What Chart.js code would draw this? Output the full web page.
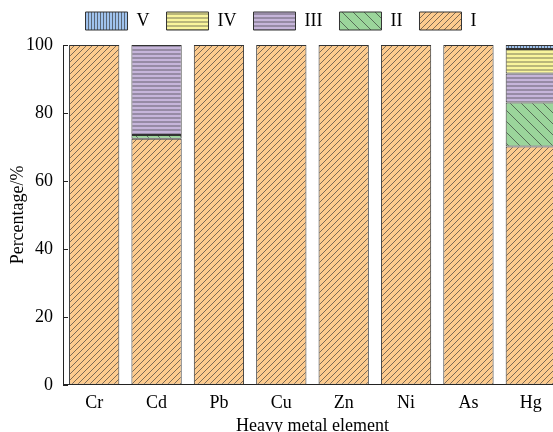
<!DOCTYPE html>
<html>
<head>
<meta charset="utf-8">
<script src="https://cdn.jsdelivr.net/npm/chart.js@4.4.1/dist/chart.umd.min.js"></script>
<style>
  html, body { margin: 0; padding: 0; background: #fff; overflow: hidden; }
  #wrap { width: 562px; height: 437px; }
</style>
</head>
<body>
<div id="wrap"><canvas id="chart"></canvas></div>
<script>
const elements = ['Cr', 'Cd', 'Pb', 'Cu', 'Zn', 'Ni', 'As', 'Hg'];
const gradeI   = [100, 72.4, 100, 100, 100, 100, 100, 70.1];
const gradeII  = [0, 1.1, 0, 0, 0, 0, 0, 13.0];
const gradeIII = [0, 26.5, 0, 0, 0, 0, 0, 8.5];
const gradeIV  = [0, 0, 0, 0, 0, 0, 0, 7.2];
const gradeV   = [0, 0, 0, 0, 0, 0, 0, 1.2];
const yTicks = [0, 20, 40, 60, 80, 100];

const serif = 'Liberation Serif';

// little hatch patterns, one per grade
function makePattern(bg, kind, step) {
    const c = document.createElement('canvas');
    c.width = step; c.height = step;
    const g = c.getContext('2d');
    g.fillStyle = bg;
    g.fillRect(0, 0, step, step);
    g.strokeStyle = 'rgba(50,50,50,0.8)';
    g.lineWidth = 0.8;
    g.beginPath();
    if (kind === 'h') {
        g.moveTo(0, step / 2); g.lineTo(step, step / 2);
    } else if (kind === 'v') {
        g.moveTo(step / 2, 0); g.lineTo(step / 2, step);
    } else if (kind === '/') {
        g.moveTo(0, step); g.lineTo(step, 0);
        g.moveTo(-1, 1); g.lineTo(1, -1);
        g.moveTo(step - 1, step + 1); g.lineTo(step + 1, step - 1);
    } else if (kind === '\\') {
        g.moveTo(0, 0); g.lineTo(step, step);
        g.moveTo(step - 1, -1); g.lineTo(step + 1, 1);
        g.moveTo(-1, step - 1); g.lineTo(1, step + 1);
    }
    g.stroke();
    return g.createPattern(c, 'repeat');
}

const ctx = document.getElementById('chart').getContext('2d');

const patI   = makePattern('#fdcb8e', '/', 6);
const patII  = makePattern('#9bd59b', '\\', 11);
const patIII = makePattern('#c6b5da', 'h', 4);
const patIV  = makePattern('#f9f59c', 'h', 4);
const patV   = makePattern('#a0c3ee', 'v', 3);

// y ticks point into the plot
const innerTicks = {
    id: 'innerTicks',
    afterInit: (chart) => {
        // leave a bit more room under the legend
        const lg = chart.legend;
        const fit = lg.fit;
        lg.fit = function () { fit.call(this); this.height += 5; };
    },
    afterDraw: (chart) => {
        const { ctx, chartArea, scales: { y } } = chart;
        ctx.save();
        ctx.strokeStyle = '#222';
        ctx.lineWidth = 1;
        yTicks.forEach((v) => {
            const py = Math.round(y.getPixelForValue(v)) + 0.5;
            ctx.beginPath();
            ctx.moveTo(chartArea.left, py);
            ctx.lineTo(chartArea.left + 5, py);
            ctx.stroke();
        });
        ctx.restore();
    },
};

const ds = (label, data, pat) => ({
    label: label,
    data: data,
    backgroundColor: pat,
    borderColor: '#333',
    borderWidth: 1,
    borderSkipped: false,
    categoryPercentage: 1,
    barPercentage: 0.806,
});

new Chart(ctx, {
    type: 'bar',
    data: {
        labels: elements,
        datasets: [
            ds('I', gradeI, patI),
            ds('II', gradeII, patII),
            ds('III', gradeIII, patIII),
            ds('IV', gradeIV, patIV),
            ds('V', gradeV, patV),
        ],
    },
    options: {
        responsive: true,
        maintainAspectRatio: false,
        animation: false,
        layout: { padding: { left: 0, right: 0, top: -5, bottom: 0 } },
        plugins: {
            legend: {
                reverse: true,
                labels: {
                    boxWidth: 42,
                    boxHeight: 18,
                    padding: 17,
                    color: '#000',
                    font: { family: serif, size: 18 },
                },
            },
            tooltip: { enabled: false },
        },
        scales: {
            x: {
                stacked: true,
                grid: { display: false, drawTicks: false },
                border: { color: '#222', width: 1 },
                ticks: { color: '#000', font: { family: serif, size: 18 }, padding: 8 },
                title: {
                    display: true,
                    text: 'Heavy metal element',
                    color: '#000',
                    font: { family: serif, size: 18 },
                    padding: { top: -7, bottom: 0 },
                },
            },
            y: {
                stacked: true,
                min: 0,
                max: 100,
                afterFit: (scale) => { scale.width = 63; },
                afterBuildTicks: (scale) => { scale.ticks = yTicks.map((v) => ({ value: v })); },
                grid: { display: false, drawTicks: false },
                border: { color: '#222', width: 1 },
                ticks: { color: '#000', font: { family: serif, size: 18 }, padding: 10 },
                title: {
                    display: true,
                    text: 'Percentage/%',
                    color: '#000',
                    font: { family: serif, size: 18 },
                    padding: { top: 7, bottom: 0 },
                },
            },
        },
    },
    plugins: [innerTicks],
});
</script>
</body>
</html>
